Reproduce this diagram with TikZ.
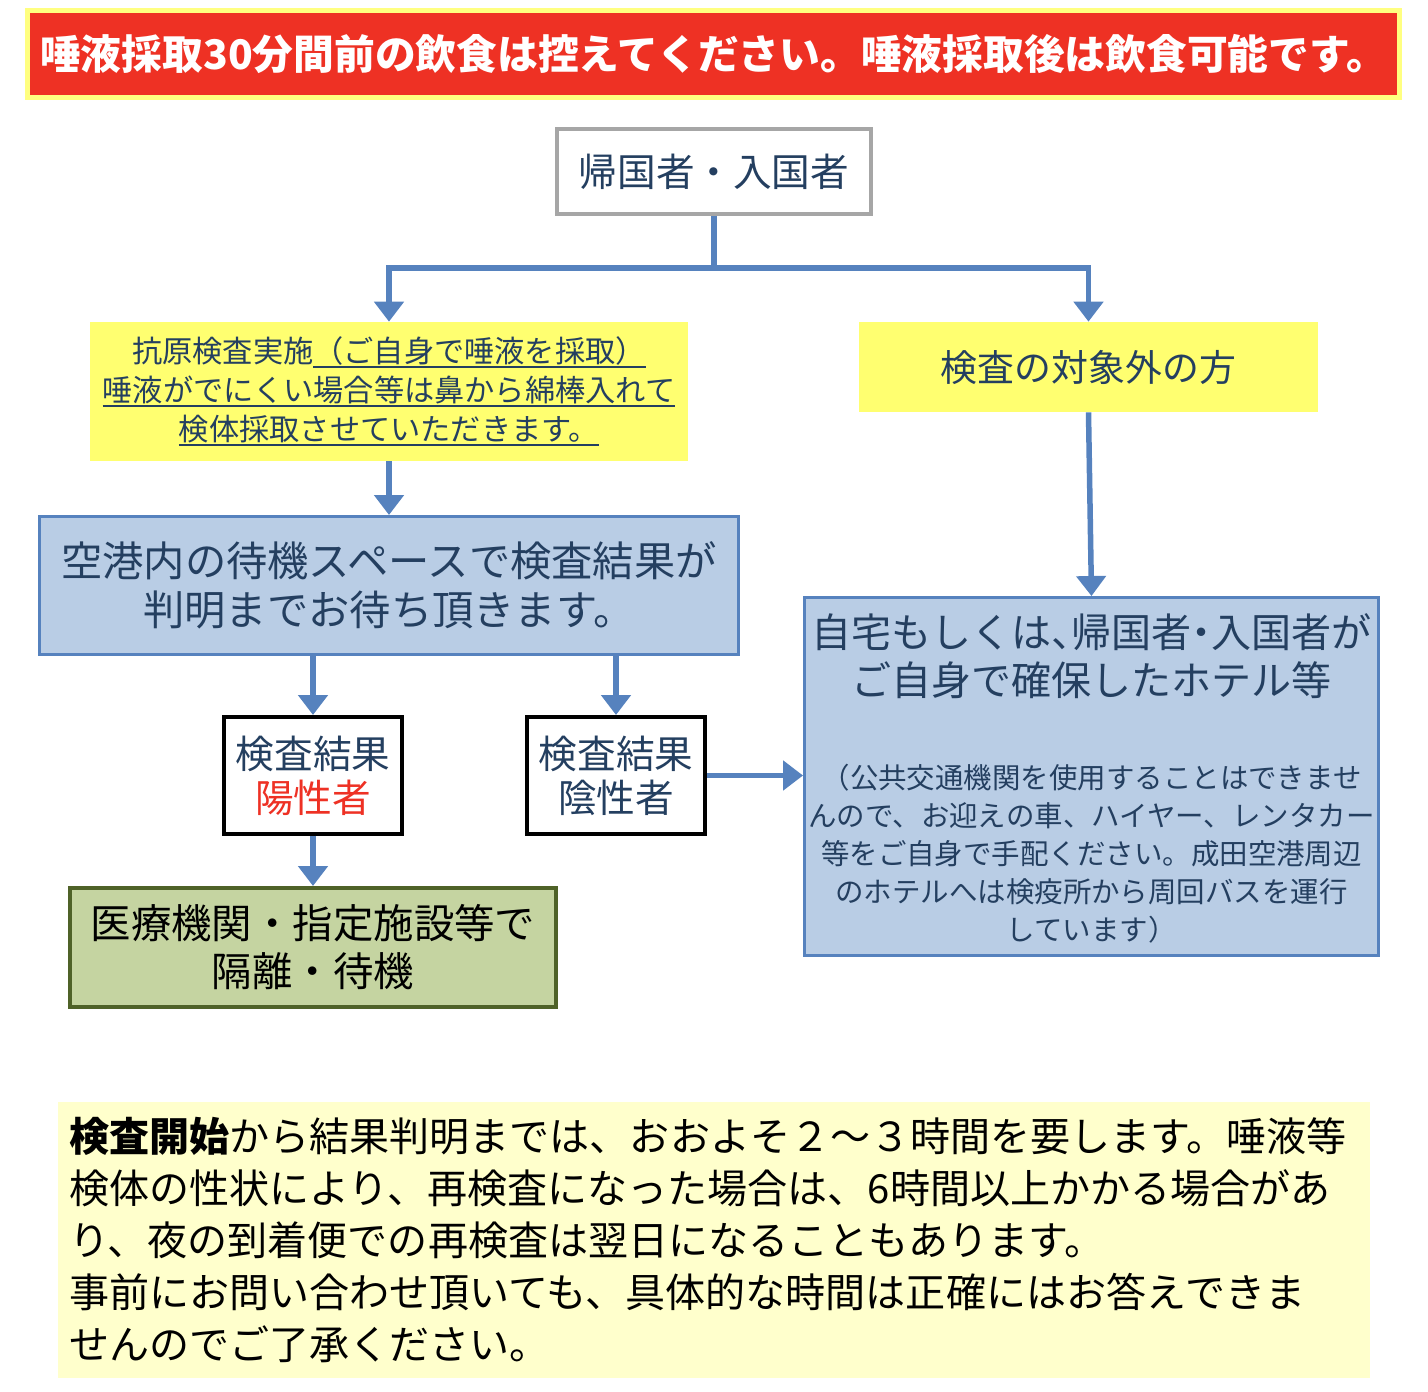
\documentclass[tikz,border=0pt]{standalone}
\usepackage{fontspec}
\setmainfont{Noto Sans CJK JP}
\usepackage{tikz}
\usetikzlibrary{arrows.meta,positioning,calc}
\usepackage{xcolor}
\definecolor{qrRed}{HTML}{EE3124}
\definecolor{qrBannerEdge}{HTML}{FFFF80}
\definecolor{qrYellow}{HTML}{FFFF70}
\definecolor{qrPale}{HTML}{FFFFCC}
\definecolor{qrBlue}{HTML}{5682BE}
\definecolor{qrBlueFill}{HTML}{B9CDE5}
\definecolor{qrNavy}{HTML}{243F60}
\definecolor{qrGray}{HTML}{A6A6A6}
\definecolor{qrGreen}{HTML}{C5D4A1}
\definecolor{qrOlive}{HTML}{4F6228}
\definecolor{qrAlert}{HTML}{EE3124}
\newsavebox{\qrUbox}
\newcommand{\qrUline}[1]{\sbox{\qrUbox}{#1}\leavevmode\rlap{\rule[-0.2em]{\wd\qrUbox}{0.07em}}\usebox{\qrUbox}}
\newcommand{\qrHalf}[1]{{\addfontfeature{RawFeature=+palt}#1}}
\tikzset{
    qrBanner/.style={
        draw=qrBannerEdge,
        line width=0.1cm,
        fill=qrRed,
        text=white,
        inner sep=0pt,
        minimum width=27.44cm,
        minimum height=1.74cm,
        font={\fontsize{23.2pt}{28pt}\selectfont\bfseries}
    },
    qrPlain/.style={
        draw=qrGray,
        line width=0.08cm,
        fill=white,
        text=qrNavy,
        inner sep=0pt,
        align=center,
        minimum width=6.28cm,
        minimum height=1.7cm,
        font={\fontsize{22pt}{25pt}\selectfont}
    },
    qrNote/.style={
        fill=qrYellow,
        text=qrNavy,
        inner sep=0pt,
        align=center
    },
    qrWait/.style={
        draw=qrBlue,
        line width=0.06cm,
        fill=qrBlueFill,
        text=qrNavy,
        inner sep=0pt,
        align=center
    },
    qrResult/.style={
        draw=black,
        line width=0.08cm,
        fill=white,
        text=qrNavy,
        inner sep=0pt,
        align=center,
        minimum width=3.56cm,
        minimum height=2.34cm,
        font={\fontsize{22pt}{25pt}\selectfont}
    },
    qrIsolate/.style={
        draw=qrOlive,
        line width=0.08cm,
        fill=qrGreen,
        text=black,
        inner sep=0pt,
        align=center,
        minimum width=9.72cm,
        minimum height=2.38cm,
        font={\fontsize{23pt}{27.3pt}\selectfont}
    },
    qrLine/.style={line width=0.11cm, qrBlue},
    qrArrow/.style={-{Triangle[width=0.58cm,length=0.4cm]}, line width=0.11cm, qrBlue}
}

\begin{document}
\begin{tikzpicture}[x=0.02cm,y=-0.02cm]
    \useasboundingbox (0,0) rectangle (1428,1392);

    % Banner
    \node[qrBanner] (banner) at (713.5,54) {唾液採取30分間前の飲食は控えてください。唾液採取後は飲食可能です。};

    % Flow boxes
    \node[qrPlain] (traveler) at (714,171.5) {帰国者・入国者};
    \node[qrNote, minimum width=11.96cm, minimum height=2.78cm,
          font={\fontsize{17.2pt}{22.2pt}\selectfont}] (antigen) at (389,391.5)
          {抗原検査実施\qrUline{（ご自身で唾液を採取）}\\\qrUline{唾液がでにくい場合等は鼻から綿棒入れて}\\\qrUline{検体採取させていただきます。}};
    \node[qrNote, minimum width=9.18cm, minimum height=1.8cm,
          font={\fontsize{21pt}{24pt}\selectfont}] (exempt) at (1088.5,367) {検査の対象外の方};
    \node[qrWait, minimum width=13.98cm, minimum height=2.76cm,
          font={\fontsize{23.5pt}{27.9pt}\selectfont}] (waiting) at (389,585.5)
          {空港内の待機スペースで検査結果が\\判明までお待ち頂きます。};
    \node[qrWait, minimum width=11.48cm, minimum height=7.16cm] (home) at (1091.5,776.5) {};
    \node[text=qrNavy, align=center, inner sep=0pt,
          font={\fontsize{22.8pt}{27.3pt}\selectfont}] (homeTitle) at (1091.5,656)
          {自宅もしくは\qrHalf{、}帰国者\qrHalf{・}入国者が\\ご自身で確保したホテル等};
    \node[text=qrNavy, align=center, inner sep=0pt,
          font={\fontsize{16.2pt}{21.6pt}\selectfont}] (homeNote) at (1091.5,854)
          {（公共交通機関を使用することはできませ\\んので、お迎えの車、ハイヤー、レンタカー\\等をご自身で手配ください。成田空港周辺\\のホテルへは検疫所から周回バスを運行\\しています）};

    % Results
    \node[qrResult] (positive) at (313,775.5) {検査結果\\\textcolor{qrAlert}{陽性者}};
    \node[qrResult] (negative) at (616,775.5) {検査結果\\陰性者};
    \node[qrIsolate] (isolation) at (313,947.5) {医療機関・指定施設等で\\隔離・待機};

    % Connectors
    \coordinate (fork) at (714,268);
    \draw[qrLine] (traveler.south) -- (fork);
    \draw[qrArrow] (fork) -| (antigen.north);
    \draw[qrArrow] (fork) -| (exempt.north);
    \draw[qrArrow] (antigen.south) -- (waiting.north);
    \draw[qrArrow] (exempt.south) -- (home.north);
    \draw[qrArrow] (waiting.south -| positive.north) -- (positive.north);
    \draw[qrArrow] (waiting.south -| negative.north) -- (negative.north);
    \draw[qrArrow] (negative.east) -- (home.west |- negative.east);
    \draw[qrArrow] (positive.south) -- (isolation.north);

    % Notice
    \node[fill=qrPale, text=black, align=left, inner xsep=0.22cm, inner ysep=0pt,
          text width=25.8cm, minimum height=5.52cm,
          font={\fontsize{22.8pt}{29.6pt}\selectfont}] (notice) at (714,1240)
          {{\bfseries 検査開始}から結果判明までは、おおよそ２～３時間を要します。唾液等\\検体の性状により、再検査になった場合は、6時間以上かかる場合があ\\り、夜の到着便での再検査は翌日になることもあります。\\事前にお問い合わせ頂いても、具体的な時間は正確にはお答えできま\\せんのでご了承ください。};
\end{tikzpicture}
\end{document}
